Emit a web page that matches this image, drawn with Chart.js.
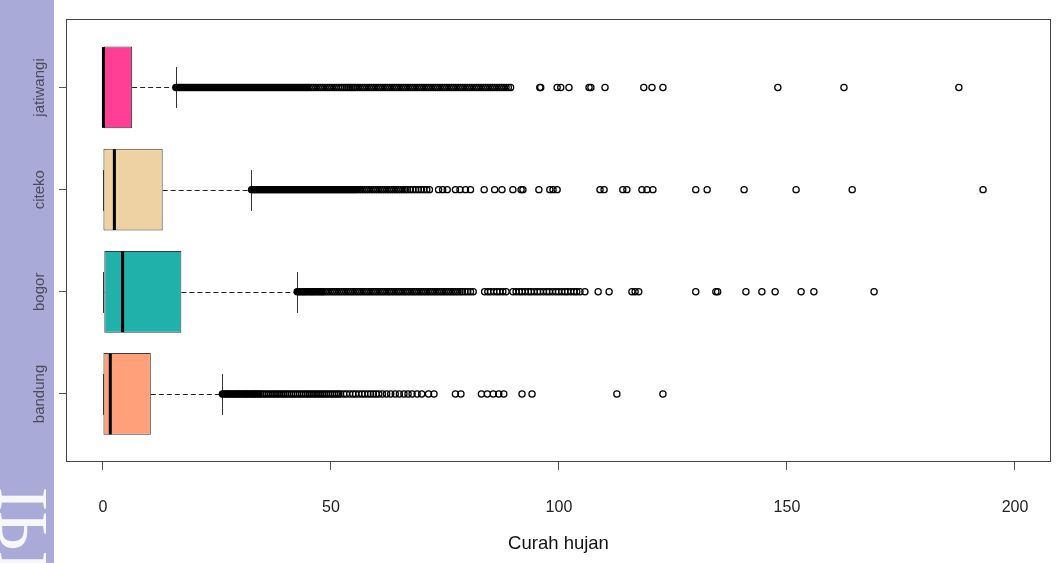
<!DOCTYPE html>
<html>
<head>
<meta charset="utf-8">
<script src="https://cdn.jsdelivr.net/npm/chart.js@4.4.1/dist/chart.umd.min.js"></script>
<style>
  html, body { margin: 0; padding: 0; background: #fff; }
  #wrap { width: 1057px; height: 563px; }
</style>
</head>
<body>
<div id="wrap"><canvas id="rain" width="1057" height="563"></canvas></div>
<script>
// stasiun, dari bawah ke atas
const stations = ['bandung', 'bogor', 'citeko', 'jatiwangi'];

// ringkasan boxplot curah hujan per stasiun
const lowWhisker = [0, 0, 0, 0];
const q1 = [0, 0.3, 0, 0];
const medians = [1.5, 4.2, 2.4, 0];
const q3 = [10.5, 17.2, 13.1, 6.4];
const highWhisker = [26.2, 42.5, 32.5, 16.0];

const xTicks = [0, 50, 100, 150, 200];

// pencilan yang sangat rapat (saling tumpuk jadi pita hitam)
const denseBandung = [
  26.2, 26.6, 27.0, 27.4, 27.7, 28.1, 28.5, 28.9, 29.3, 29.6, 30.0, 30.4, 30.8, 31.2, 31.5, 31.9, 32.3, 32.7, 33.1, 33.4, 33.8, 34.2
];
const denseBogor = [
  42.6, 43.0, 43.4, 43.8, 44.1, 44.5, 44.9, 45.3, 45.7, 46.0, 46.4, 46.8, 47.2, 47.6, 48.0
];
const denseCiteko = [
  32.6, 33.0, 33.4, 33.8, 34.2, 34.6, 35.0, 35.4, 35.8, 36.2, 36.6, 37.0, 37.4, 37.8, 38.2, 38.6, 39.0, 39.4, 39.8, 40.2,
  40.6, 41.0, 41.4, 41.8, 42.2, 42.6, 43.0, 43.4, 43.8, 44.2, 44.6, 45.0, 45.4, 45.8, 46.2, 46.6, 47.0, 47.4, 47.8, 48.2,
  48.6, 49.0, 49.4, 49.8, 50.2, 50.6, 51.0, 51.4, 51.8, 52.2, 52.6, 53.0, 53.4, 53.8, 54.2, 54.6, 55.0, 55.4, 55.8
];
const denseJatiwangi = [
  16.0, 16.4, 16.8, 17.2, 17.6, 18.0, 18.4, 18.8, 19.2, 19.6, 20.0, 20.4, 20.8, 21.2, 21.6, 22.0, 22.4, 22.8, 23.2, 23.6,
  24.0, 24.4, 24.8, 25.2, 25.6, 26.0, 26.4, 26.8, 27.2, 27.6, 28.0, 28.4, 28.8, 29.2, 29.6, 30.0, 30.4, 30.8, 31.2, 31.6,
  32.0, 32.4, 32.8, 33.2, 33.6, 34.0, 34.4, 34.8, 35.2, 35.6, 36.0, 36.4, 36.8, 37.2, 37.6, 38.0, 38.4, 38.8, 39.2, 39.6,
  40.0, 40.4, 40.8, 41.2, 41.6, 42.0, 42.4, 42.8, 43.2, 43.6, 44.0, 44.4, 44.8
];

// pencilan lainnya (lingkaran terbuka)
const outBandung = [
  34.6, 35.0, 35.5, 35.9, 36.4, 36.8, 37.3, 37.7, 38.2, 38.6, 39.1, 39.5, 40.0, 40.4, 40.9, 41.3, 41.8, 42.2, 42.7, 43.1,
  43.6, 44.0, 44.5, 44.9, 45.4, 45.8, 46.3, 46.7, 47.2, 47.6, 48.1, 48.5, 49.0, 49.4, 49.9, 50.3, 50.8, 51.2, 51.7, 52.1,
  52.8, 53.4, 54.1, 54.8, 55.4, 56.1, 56.8, 57.4, 58.1, 58.7, 59.3, 59.9, 60.5,
  61.3, 62.2, 63.1, 64.1, 65.0, 66.0, 66.9, 67.8, 68.9, 69.9, 71.4, 72.6, 77.3, 78.5, 83.0, 84.3, 85.6, 86.8, 87.9,
  91.9, 94.1, 112.7, 122.8
];
const outBogor = [
  48.3, 48.8, 49.3, 49.8, 50.3, 50.8, 51.3, 51.8, 52.3, 52.8, 53.3, 53.8, 54.3, 54.8, 55.3, 55.8, 56.3, 56.8, 57.3, 57.8,
  58.3, 58.8, 59.3, 59.8, 60.3, 60.8, 61.3, 61.8, 62.3, 62.8, 63.3, 63.8, 64.3, 64.8, 65.3, 65.8, 66.3, 66.8, 67.3, 67.8,
  68.3, 68.8, 69.3, 69.8, 70.3, 70.8, 71.3, 71.8, 72.3, 72.8, 73.3, 73.8, 74.3, 74.8, 75.3, 75.8, 76.3, 76.8, 77.3, 77.8,
  78.3, 78.8, 79.4, 80.0, 80.6, 81.2,
  83.7, 84.4, 85.0, 85.7, 86.4, 87.0, 87.7, 88.4, 89.9, 90.6, 91.3, 91.9, 92.6, 93.3, 93.9, 94.6, 95.3, 95.9, 96.6, 97.3,
  97.9, 98.6, 99.3, 99.9, 100.6, 101.3, 101.9, 102.6, 103.3, 103.9, 104.6,
  105.7, 108.6, 111.0, 116.0, 116.7, 117.5, 130.0, 134.4, 134.8, 141.0, 144.5, 147.4, 153.1, 155.9, 169.1
];
const outCiteko = [
  56.3, 56.8, 57.3, 57.8, 58.3, 58.8, 59.3, 59.8, 60.3, 60.8, 61.3, 61.8, 62.3, 62.8, 63.3, 63.8, 64.3, 64.8, 65.3, 65.8,
  66.3, 66.8, 67.4, 68.0, 68.6, 69.2, 69.8, 70.4, 71.0, 71.6,
  73.6, 74.5, 75.5, 77.3, 78.3, 79.5, 80.6, 83.6, 85.9, 87.5, 89.9, 91.7, 92.1, 95.6, 98.0, 98.7, 99.6,
  109.0, 109.9, 114.0, 114.9, 118.2, 119.3, 120.6, 130.0, 132.5, 140.6, 152.0, 164.3, 193.0
];
const outJatiwangi = [
  45.2, 45.7, 46.2, 46.7, 47.2, 47.7, 48.2, 48.7, 49.2, 49.7, 50.2, 50.7, 51.2, 51.7, 52.2, 52.6, 53.0, 53.4, 53.8, 54.2,
  54.6, 55.0, 55.4, 55.9, 56.4, 56.9, 57.4, 57.9, 58.4, 58.9, 59.4, 59.9, 60.4, 60.9, 61.4, 61.9, 62.4, 62.9, 63.4, 63.9,
  64.4, 64.9, 65.4, 65.9, 66.4, 66.9, 67.4, 67.9, 68.4, 68.9, 69.4, 69.9, 70.4, 70.9, 71.4, 71.9, 72.4, 72.9, 73.4, 73.9,
  74.4, 74.9, 75.4, 75.9, 76.4, 76.9, 77.4, 77.9, 78.4, 78.9, 79.4, 79.9, 80.4, 80.9, 81.4, 81.9, 82.4, 82.9, 83.4, 83.9,
  84.4, 84.9, 85.4, 85.9, 86.4, 86.9, 87.4, 87.9, 88.4, 88.9, 89.4,
  95.8, 96.0, 99.6, 100.4, 102.2, 106.6, 107.0, 110.1, 118.6, 120.4, 122.8, 148.0, 162.5, 187.7
];

const denseOutliers = [denseBandung, denseBogor, denseCiteko, denseJatiwangi];
const outliers = [outBandung, outBogor, outCiteko, outJatiwangi];
const boxColors = ['#ffa07a', '#20b2aa', '#eed2a4', '#ff3e96'];
const family = '"Liberation Sans", Arial, sans-serif';
const BOXWEX = 0.8;

const boxParts = {
  id: 'boxParts',
  beforeDraw(chart) {
    const { ctx, width, height } = chart;
    ctx.save();
    ctx.fillStyle = '#fff';
    ctx.fillRect(0, 0, width, height);
    // pita ungu di tepi kiri halaman
    ctx.fillStyle = '#aaaad8';
    ctx.fillRect(0, 0, 54, height);
    ctx.translate(27, 487);
    ctx.rotate(Math.PI / 2);
    ctx.scale(1, -1);
    ctx.font = '72px "Liberation Serif", "DejaVu Serif", serif';
    ctx.fillStyle = 'rgba(255,255,255,0.9)';
    ctx.textAlign = 'left';
    ctx.textBaseline = 'middle';
    ctx.fillText('IPB', 0, 0);
    ctx.restore();
  },
  beforeDatasetsDraw(chart) {
    const { ctx, scales: { x, y } } = chart;
    const unit = Math.abs(y.getPixelForValue(1) - y.getPixelForValue(2));
    const staple = unit * BOXWEX / 4;
    ctx.save();
    ctx.lineWidth = 1;
    stations.forEach((s, i) => {
      const cy = Math.round(y.getPixelForValue(i + 1)) + 0.5;
      // garis whisker putus-putus
      ctx.strokeStyle = '#222';
      ctx.setLineDash([5, 3]);
      ctx.beginPath();
      ctx.moveTo(x.getPixelForValue(q3[i]), cy);
      ctx.lineTo(x.getPixelForValue(highWhisker[i]), cy);
      ctx.moveTo(x.getPixelForValue(q1[i]), cy);
      ctx.lineTo(x.getPixelForValue(lowWhisker[i]), cy);
      ctx.stroke();
      ctx.setLineDash([]);
      ctx.strokeStyle = '#333';
      ctx.beginPath();
      [lowWhisker[i], highWhisker[i]].forEach(v => {
        const px = Math.round(x.getPixelForValue(v)) + 0.5;
        ctx.moveTo(px, cy - staple);
        ctx.lineTo(px, cy + staple);
      });
      ctx.stroke();
    });
    ctx.restore();
  },
  afterDatasetsDraw(chart) {
    const { ctx, chartArea: a, scales: { x, y } } = chart;
    const unit = Math.abs(y.getPixelForValue(1) - y.getPixelForValue(2));
    const half = unit * BOXWEX / 2;
    ctx.save();
    // median
    ctx.strokeStyle = '#000';
    ctx.lineWidth = 3;
    stations.forEach((s, i) => {
      const cy = y.getPixelForValue(i + 1);
      const px = x.getPixelForValue(medians[i]) + 0.5;
      ctx.beginPath();
      ctx.moveTo(px, cy - half + 0.5);
      ctx.lineTo(px, cy + half - 0.5);
      ctx.stroke();
    });
    // bingkai plot
    ctx.strokeStyle = '#444';
    ctx.lineWidth = 1;
    ctx.strokeRect(a.left + 0.5, a.top + 0.5, a.right - a.left - 1, a.bottom - a.top);
    ctx.restore();
  },
  afterDraw(chart) {
    const { ctx, scales: { y } } = chart;
    ctx.save();
    ctx.font = '15px ' + family;
    ctx.fillStyle = '#4a4a5a';
    ctx.textAlign = 'center';
    ctx.textBaseline = 'middle';
    stations.forEach((s, i) => {
      ctx.save();
      ctx.translate(40, y.getPixelForValue(i + 1));
      ctx.rotate(-Math.PI / 2);
      ctx.fillText(s, 0, 0);
      ctx.restore();
    });
    ctx.restore();
  }
};

const pointSet = (vals, i, filled) => ({
  type: 'scatter',
  label: stations[i],
  data: vals.map(v => ({ x: v, y: i + 1 })),
  pointRadius: 3.1,
  pointHoverRadius: 3.1,
  pointBorderWidth: 1.25,
  borderColor: '#000',
  backgroundColor: filled ? '#000' : 'rgba(0,0,0,0)'
});

const ctx = document.getElementById('rain').getContext('2d');
const chart = new Chart(ctx, {
  type: 'bar',
  data: {
    datasets: [
      {
        label: 'box',
        data: stations.map((s, i) => ({ y: i + 1, x: [q1[i], q3[i]] })),
        backgroundColor: boxColors,
        borderColor: '#3a3a3a',
        borderWidth: 1,
        borderSkipped: false,
        barPercentage: BOXWEX,
        categoryPercentage: 1
      },
      ...denseOutliers.map((vals, i) => pointSet(vals, i, true)),
      ...outliers.map((vals, i) => pointSet(vals, i, false))
    ]
  },
  options: {
    indexAxis: 'y',
    responsive: false,
    animation: false,
    events: [],
    layout: { padding: { top: 19, right: 6, left: 0, bottom: 0 } },
    plugins: { legend: { display: false }, tooltip: { enabled: false } },
    scales: {
      x: {
        type: 'linear',
        min: -8.1,
        max: 207.9,
        offset: false,
        beginAtZero: false,
        afterBuildTicks: s => { s.ticks = xTicks.map(v => ({ value: v })); },
        afterFit: s => { s.height = 102; },
        border: { display: false },
        grid: { drawOnChartArea: false, drawTicks: true, tickLength: 9, color: '#555', offset: false },
        ticks: { color: '#222', font: { size: 16, family }, padding: 28, maxRotation: 0 },
        title: {
          display: true,
          text: 'Curah hujan',
          color: '#111',
          font: { size: 18.5, family },
          padding: { top: 0, bottom: 8 }
        }
      },
      y: {
        type: 'linear',
        min: 0.344,
        max: 4.67,
        offset: false,
        beginAtZero: false,
        afterBuildTicks: s => { s.ticks = stations.map((_, i) => ({ value: i + 1 })); },
        afterFit: s => { s.width = 66; },
        border: { display: false },
        grid: { drawOnChartArea: false, drawTicks: true, tickLength: 7, color: '#555', offset: false },
        ticks: { display: false }
      }
    }
  },
  plugins: [boxParts]
});
</script>
</body>
</html>
